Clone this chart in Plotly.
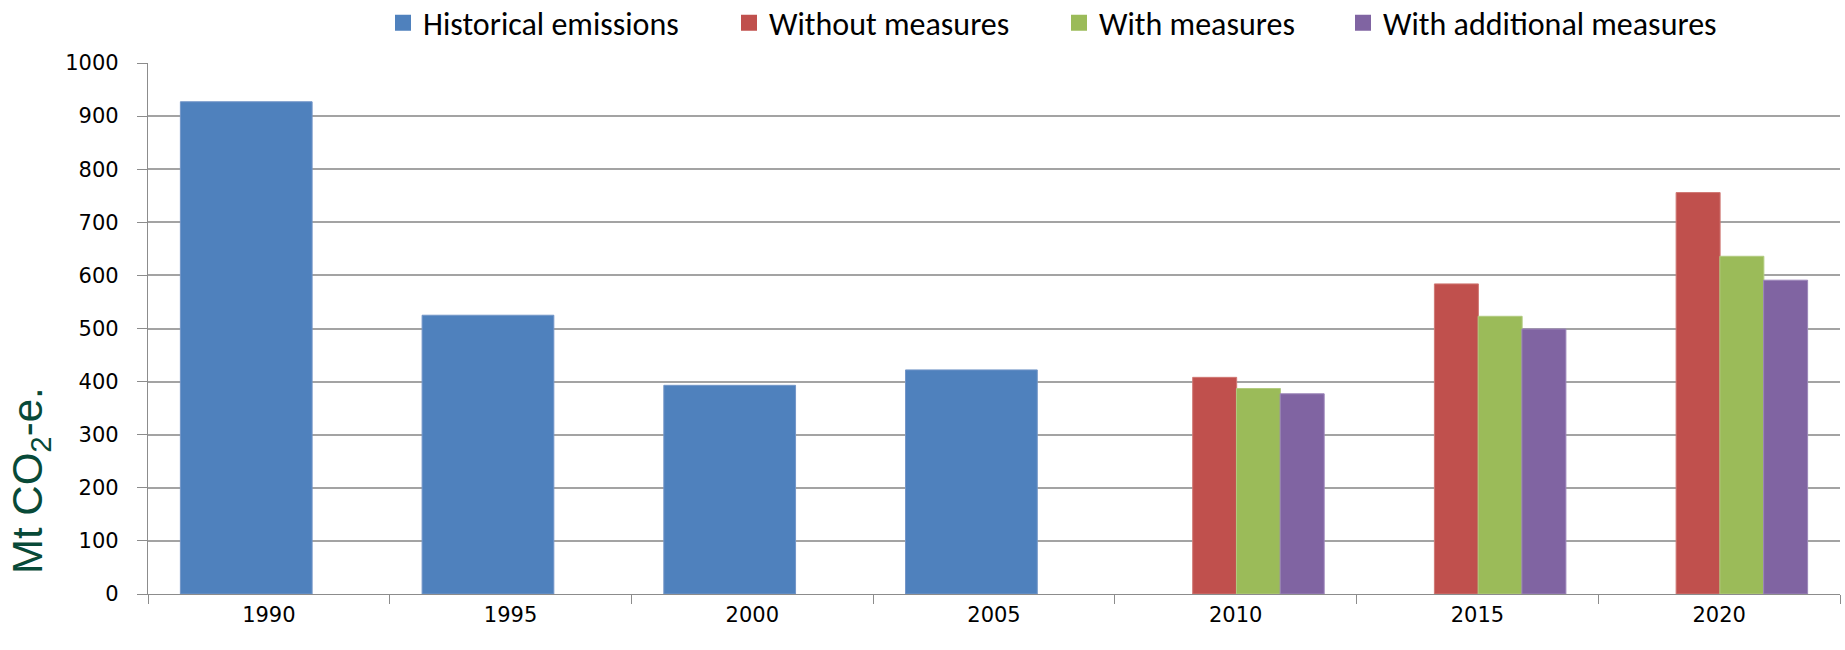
import plotly.graph_objects as go

# Emissions data (Mt CO2-e.)
years = ["1990", "1995", "2000", "2005", "2010", "2015", "2020"]
hist_years = ["1990", "1995", "2000", "2005"]
hist_values = [927, 525, 393, 422]
proj_years = ["2010", "2015", "2020"]
without_measures = [408, 584, 756]
with_measures = [387, 523, 636]
with_additional = [377, 499, 591]
y_tick_values = [0, 100, 200, 300, 400, 500, 600, 700, 800, 900, 1000]

series_names = ["Historical emissions", "Without measures", "With measures",
                "With additional measures"]
series_colors = ["#4F81BD", "#C0504D", "#9BBB59", "#8064A2"]
outline_colors = ["#7396C8", "#D07874", "#B2CB80", "#9C86BA"]

W, H = 1845, 650
M_L, M_R, M_T, M_B = 148, 5, 63, 56
plot_w = W - M_L - M_R
plot_h = H - M_T - M_B


def px_to_paper_x(px):
    return (px - M_L) / plot_w


def px_to_paper_y(py):
    return (H - M_B - py) / plot_h


fig = go.Figure()

# Historical bars are wide; projection bars share the same overall span, split in three
fig.add_trace(go.Bar(
    x=hist_years, y=hist_values, name=series_names[0],
    width=0.545, offset=-0.366,
    marker=dict(color=series_colors[0], line=dict(color=outline_colors[0], width=1)),
    showlegend=False, hoverinfo="x+y",
))
proj_series = [without_measures, with_measures, with_additional]
proj_offsets = [-0.178, 0.003, 0.184]
for i, vals in enumerate(proj_series):
    fig.add_trace(go.Bar(
        x=proj_years, y=vals, name=series_names[i + 1],
        width=0.182, offset=proj_offsets[i],
        marker=dict(color=series_colors[i + 1],
                    line=dict(color=outline_colors[i + 1], width=1)),
        showlegend=False, hoverinfo="x+y",
    ))

# Legend entries, one legend each so the entries can be spaced freely
legend_ids = ["legend", "legend2", "legend3", "legend4"]
legend_square_centers = [403, 749, 1079, 1363]
legend_font = dict(family="Carlito, Lato, 'Open Sans', sans-serif", size=32, color="#000000")
for i, name in enumerate(series_names):
    fig.add_trace(go.Scatter(
        x=[None], y=[None], mode="markers", name=name,
        marker=dict(symbol="square", size=16, color=series_colors[i],
                    line=dict(width=0)),
        legend=legend_ids[i], showlegend=True, hoverinfo="skip",
    ))

legend_layouts = {}
for i, lid in enumerate(legend_ids):
    legend_layouts[lid] = dict(
        x=px_to_paper_x(legend_square_centers[i] - 20), xanchor="left",
        y=px_to_paper_y(23), yanchor="middle",
        orientation="h", font=legend_font, itemsizing="trace",
        bgcolor="rgba(0,0,0,0)", borderwidth=0,
    )

tick_font = dict(family="DejaVu Sans, Verdana, sans-serif", size=21, color="#000000")

fig.update_layout(
    width=W, height=H,
    margin=dict(l=M_L, r=M_R, t=M_T, b=M_B, pad=0, autoexpand=False),
    paper_bgcolor="#ffffff", plot_bgcolor="#ffffff",
    barmode="overlay",
    xaxis=dict(
        type="category", categoryorder="array", categoryarray=years,
        range=[-0.5, len(years) - 0.5],
        tickson="boundaries", ticks="outside", ticklen=9, tickwidth=1.3,
        tickcolor="#8c8c8c", showline=True, linecolor="#8c8c8c", linewidth=1.3,
        showgrid=False, zeroline=False, tickfont=tick_font,
        ticklabelstandoff=2,
    ),
    yaxis=dict(
        range=[0, 1000], tickmode="array", tickvals=y_tick_values,
        ticks="outside", ticklen=10, tickwidth=1.3, tickcolor="#8c8c8c",
        showline=True, linecolor="#8c8c8c", linewidth=1.3,
        showgrid=True, gridcolor="#a3a3a3", gridwidth=1.6,
        zeroline=False, tickfont=tick_font, ticklabelstandoff=14,
    ),
    annotations=[dict(
        text="Mt CO<sub>2</sub>-e.", textangle=-90,
        xref="paper", yref="paper",
        x=px_to_paper_x(30), y=px_to_paper_y(481),
        xanchor="center", yanchor="middle", showarrow=False,
        font=dict(family="Liberation Sans, Arial, sans-serif", size=42, color="#084a38"),
    )],
    **legend_layouts,
)

fig.write_html("out.html")
